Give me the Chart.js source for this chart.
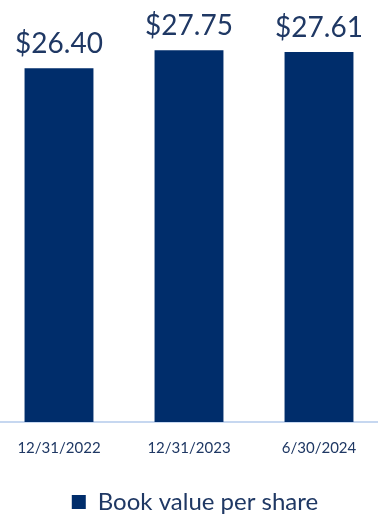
<!DOCTYPE html>
<html>
<head>
<meta charset="utf-8">
<script src="https://cdn.jsdelivr.net/npm/chart.js@4.4.1/dist/chart.umd.min.js"></script>
<style>
  html, body { margin: 0; padding: 0; background: #fff; overflow: hidden; }
  /* холст немного шире и выше окна, края обрезаются как в исходнике */
  .chart__body { position: relative; width: 390px; height: 524px; margin-left: -6px; }
</style>
</head>
<body>
<div class="chart__body"><canvas id="myChart"></canvas></div>
<script>
// данные
const categories = ["12/31/2022", "12/31/2023", "6/30/2024"];
const bookValue = [26.40, 27.75, 27.61];
const seriesName = "Book value per share";

const navy = "#002d6b";
const textColor = "#1f3864";

// подписи над столбцами
const valueLabels = {
  id: "valueLabels",
  afterDatasetsDraw(chart) {
    const ctx = chart.ctx;
    const meta = chart.getDatasetMeta(0);
    ctx.save();
    ctx.font = "28px Lato";
    ctx.fillStyle = textColor;
    ctx.textAlign = "center";
    ctx.textBaseline = "alphabetic";
    meta.data.forEach(function (bar, i) {
      ctx.fillText("$" + bookValue[i].toFixed(2), bar.x, bar.y - 15);
    });
    ctx.restore();
  },
};

// легенда в исходнике чуть правее центра
const legendShift = {
  id: "legendShift",
  afterLayout(chart) {
    chart.legend.left += 6;
    chart.legend.right += 6;
  },
};

const data = {
  labels: categories,
  datasets: [
    {
      label: seriesName,
      data: bookValue,
      backgroundColor: navy,
      borderWidth: 0,
      categoryPercentage: 1,
      barPercentage: 0.53,
    },
  ],
};

const config = {
  type: "bar",
  data,
  options: {
    responsive: true,
    maintainAspectRatio: false,
    animation: false,
    layout: { padding: 0 },
    scales: {
      x: {
        grid: { display: false },
        border: { display: true, color: "#c6d7f0", width: 2 },
        ticks: {
          color: textColor,
          font: { family: "Lato", size: 15 },
          padding: 9,
          maxRotation: 0,
        },
      },
      y: {
        display: false,
        min: 0,
        max: 31.5,
      },
    },
    plugins: {
      legend: {
        display: true,
        position: "bottom",
        labels: {
          color: textColor,
          font: { family: "Lato", size: 24 },
          boxWidth: 14,
          boxHeight: 14,
          padding: 24,
        },
      },
      tooltip: { enabled: false },
    },
  },
  plugins: [valueLabels, legendShift],
};

const myChart = new Chart(document.getElementById("myChart"), config);
</script>
</body>
</html>
